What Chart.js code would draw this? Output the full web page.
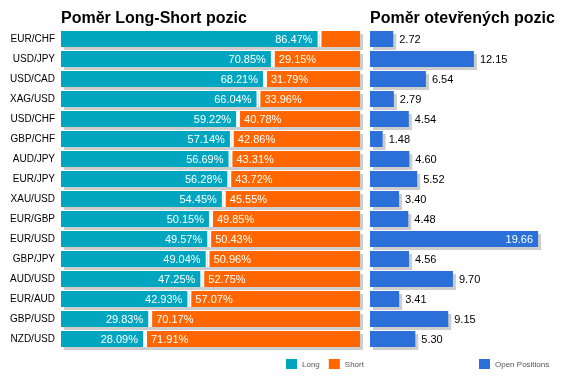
<!DOCTYPE html>
<html>
<head>
<meta charset="utf-8">
<script src="https://cdn.jsdelivr.net/npm/chart.js@4"></script>
<style>
  body { margin: 0; background: #fff; }
  #wrap { position: relative; width: 566px; height: 381px; }
  canvas { position: absolute; top: 0; }
  #ratioChart { left: 0; }
  #openChart { left: 364px; }
</style>
</head>
<body>
<div id="wrap">
  <canvas id="ratioChart" width="380" height="381"></canvas>
  <canvas id="openChart" width="202" height="381"></canvas>
</div>
<script>
const pairs = [
  "EUR/CHF", "USD/JPY", "USD/CAD", "XAG/USD", "USD/CHF", "GBP/CHF", "AUD/JPY", "EUR/JPY",
  "XAU/USD", "EUR/GBP", "EUR/USD", "GBP/JPY", "AUD/USD", "EUR/AUD", "GBP/USD", "NZD/USD",
];
const longPct = [86.47, 70.85, 68.21, 66.04, 59.22, 57.14, 56.69, 56.28, 54.45, 50.15, 49.57, 49.04, 47.25, 42.93, 29.83, 28.09];
const shortPct = [13.53, 29.15, 31.79, 33.96, 40.78, 42.86, 43.31, 43.72, 45.55, 49.85, 50.43, 50.96, 52.75, 57.07, 70.17, 71.91];
const openPos = [2.72, 12.15, 6.54, 2.79, 4.54, 1.48, 4.60, 5.52, 3.40, 4.48, 19.66, 4.56, 9.70, 3.41, 9.15, 5.30];

const FONT = "'Liberation Sans', Arial, sans-serif";

// gray drop shadow behind each whole row of bars
const shadowPlugin = {
  id: "shadow",
  beforeDatasetsDraw(chart) {
    const ctx = chart.ctx;
    const metas = chart.getSortedVisibleDatasetMetas();
    ctx.save();
    ctx.fillStyle = "#cdcdcd";
    metas[0].data.forEach((bar, i) => {
      let left = Infinity, right = -Infinity;
      metas.forEach((m) => {
        const el = m.data[i];
        left = Math.min(left, el.base, el.x);
        right = Math.max(right, el.base, el.x);
      });
      ctx.fillRect(left + 3, bar.y - bar.height / 2 + 3, right - left, bar.height);
    });
    ctx.restore();
  },
};

const titlePlugin = {
  id: "sideTitle",
  afterDraw(chart, args, opts) {
    const ctx = chart.ctx;
    ctx.save();
    ctx.font = "bold 16px " + FONT;
    ctx.fillStyle = "#000";
    ctx.textBaseline = "alphabetic";
    ctx.fillText(opts.text, chart.chartArea.left, 23);
    ctx.restore();
  },
};

const legendPlugin = {
  id: "miniLegend",
  afterDraw(chart, args, opts) {
    const ctx = chart.ctx;
    let x = opts.x;
    ctx.save();
    ctx.font = "8px " + FONT;
    ctx.textBaseline = "middle";
    chart.data.datasets.forEach((ds) => {
      ctx.fillStyle = ds.backgroundColor;
      ctx.fillRect(x, 359, 11, 10);
      ctx.fillStyle = "#555";
      ctx.fillText(ds.label, x + 16, 364.5);
      x += 16 + ctx.measureText(ds.label).width + 9;
    });
    ctx.restore();
  },
};

const pctLabels = {
  id: "pctLabels",
  afterDatasetsDraw(chart) {
    const ctx = chart.ctx;
    ctx.save();
    ctx.font = "11px " + FONT;
    ctx.fillStyle = "#fff";
    ctx.textBaseline = "middle";
    chart.getDatasetMeta(0).data.forEach((bar, i) => {
      ctx.textAlign = "right";
      ctx.fillText(longPct[i].toFixed(2) + "%", bar.x - 7, bar.y + 0.5);
    });
    chart.getDatasetMeta(1).data.forEach((bar, i) => {
      const txt = shortPct[i].toFixed(2) + "%";
      const w = ctx.measureText(txt).width;
      if (bar.x - bar.base < w + 10) return;
      ctx.textAlign = "left";
      ctx.fillText(txt, bar.base + 6, bar.y + 0.5);
    });
    ctx.restore();
  },
};

const openLabels = {
  id: "openLabels",
  afterDatasetsDraw(chart) {
    const ctx = chart.ctx;
    ctx.save();
    ctx.font = "11px " + FONT;
    ctx.textBaseline = "middle";
    chart.getDatasetMeta(0).data.forEach((bar, i) => {
      const txt = openPos[i].toFixed(2);
      const w = ctx.measureText(txt).width;
      if (bar.x + 6 + w > chart.width) {
        ctx.fillStyle = "#fff";
        ctx.textAlign = "right";
        ctx.fillText(txt, bar.x - 5, bar.y + 0.5);
      } else {
        ctx.fillStyle = "#000";
        ctx.textAlign = "left";
        ctx.fillText(txt, bar.x + 6, bar.y + 0.5);
      }
    });
    ctx.restore();
  },
};

new Chart(document.getElementById("ratioChart"), {
  type: "bar",
  data: {
    labels: pairs,
    datasets: [
      {
        label: "Long",
        data: longPct,
        backgroundColor: "#00a6c0",
        borderColor: "#fff",
        borderWidth: { top: 0, right: 2, bottom: 0, left: 0 },
        borderSkipped: false,
      },
      {
        label: "Short",
        data: shortPct,
        backgroundColor: "#ff6600",
        borderColor: "#fff",
        borderWidth: { top: 0, right: 0, bottom: 0, left: 2 },
        borderSkipped: false,
      },
    ],
  },
  options: {
    indexAxis: "y",
    responsive: false,
    animation: false,
    devicePixelRatio: 1,
    barPercentage: 0.8,
    categoryPercentage: 1,
    layout: { padding: { top: 29, right: 20, bottom: 32, left: 0 } },
    plugins: {
      legend: { display: false },
      tooltip: { enabled: false },
      sideTitle: { text: "Poměr Long-Short pozic" },
      miniLegend: { x: 286 },
    },
    scales: {
      x: { stacked: true, min: 0, max: 100, display: false },
      y: {
        stacked: true,
        grid: { display: false, drawTicks: false, tickLength: 0 },
        border: { display: false },
        ticks: { color: "#000", padding: 6, font: { size: 10, family: FONT } },
        afterFit: (axis) => { axis.width = 61; },
      },
    },
  },
  plugins: [shadowPlugin, pctLabels, titlePlugin, legendPlugin],
});

new Chart(document.getElementById("openChart"), {
  type: "bar",
  data: {
    labels: pairs,
    datasets: [
      { label: "Open Positions", data: openPos, backgroundColor: "#2a70d8" },
    ],
  },
  options: {
    indexAxis: "y",
    responsive: false,
    animation: false,
    devicePixelRatio: 1,
    barPercentage: 0.8,
    categoryPercentage: 1,
    layout: { padding: { top: 29, right: 25, bottom: 32, left: 6 } },
    plugins: {
      legend: { display: false },
      tooltip: { enabled: false },
      sideTitle: { text: "Poměr otevřených pozic" },
      miniLegend: { x: 115 },
    },
    scales: {
      x: { min: 0, max: 20, display: false },
      y: { display: false },
    },
  },
  plugins: [shadowPlugin, openLabels, titlePlugin, legendPlugin],
});
</script>
</body>
</html>
